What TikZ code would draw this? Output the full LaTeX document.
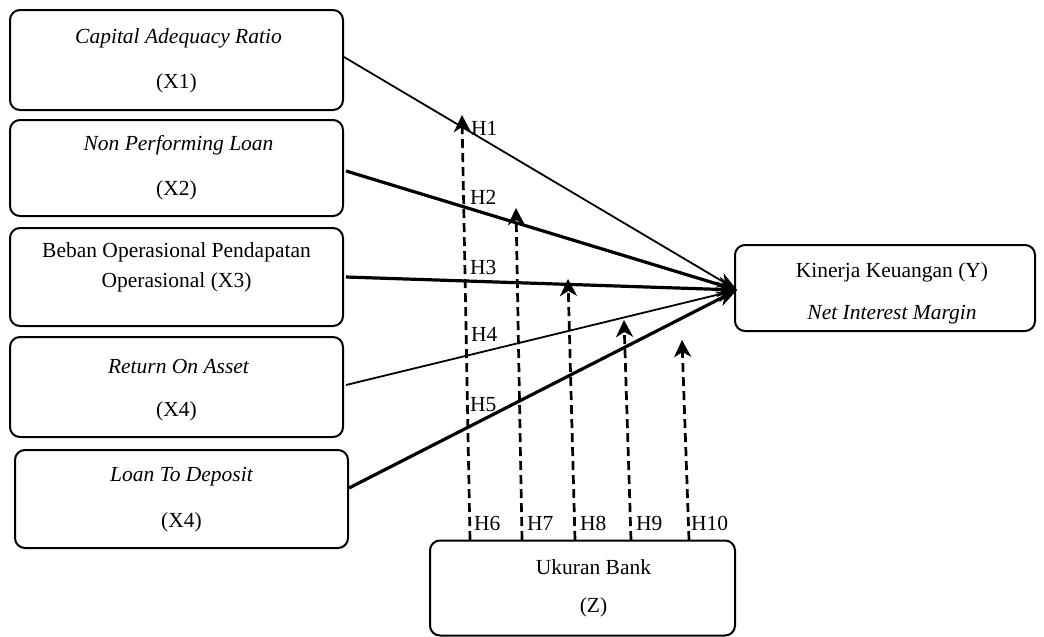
\documentclass[tikz,border=0pt]{standalone}
\usepackage{fontspec}
\setmainfont{Liberation Serif}
\usetikzlibrary{arrows.meta,calc}
\tikzset{
  box/.style={draw, line width=2pt, rounded corners=10pt, inner sep=0pt},
  txt/.style={inner sep=0pt, font=\fontsize{21.5}{24}\selectfont},
  thinarr/.style={line width=1.8pt, -{Stealth[length=20pt,width=15pt,inset=6pt]}},
  thickarr/.style={line width=3.2pt, -{Stealth[length=20pt,width=15pt,inset=6pt]}},
  dasharr/.style={line width=2.7pt, dash pattern=on 9pt off 5pt, -{Stealth[length=17pt,width=17pt,inset=5pt]}},
  hlab/.style={inner sep=0pt, anchor=west, font=\fontsize{21.5}{24}\selectfont}
}
\begin{document}
\begin{tikzpicture}[x=1pt,y=-1pt]
\useasboundingbox (0,0) rectangle (1044,637);
% boxes
\node[box, minimum width=333pt, minimum height=100pt] (x1) at (176.5,60) {};
\node[box, minimum width=333pt, minimum height=96pt] (x2) at (176.5,168) {};
\node[box, minimum width=333pt, minimum height=98pt] (x3) at (176.5,277) {};
\node[box, minimum width=333pt, minimum height=100pt] (x4) at (176.5,387) {};
\node[box, minimum width=333pt, minimum height=98pt] (x5) at (181.5,499) {};
\node[box, minimum width=300pt, minimum height=86pt] (y) at (885,288) {};
\node[box, minimum width=305pt, minimum height=95pt] (z) at (582.5,588) {};
% texts
\node[txt] (t1a) at ($(x1.center)+(2,-22)$) {\itshape Capital Adequacy Ratio};
\node[txt] (t1b) at ($(x1.center)+(0,23)$) {(X1)};
\node[txt] (t2a) at ($(x2.center)+(2,-23)$) {\itshape Non Performing Loan};
\node[txt] (t2b) at ($(x2.center)+(0,22)$) {(X2)};
\node[txt] (t3a) at ($(x3.center)+(0,-25)$) {Beban Operasional Pendapatan};
\node[txt] (t3b) at ($(x3.center)+(0,5)$) {Operasional (X3)};
\node[txt] (t4a) at ($(x4.center)+(2,-20)$) {\itshape Return On Asset};
\node[txt] (t4b) at ($(x4.center)+(0,24)$) {(X4)};
\node[txt] (t5a) at ($(x5.center)+(0,-22)$) {\itshape Loan To Deposit};
\node[txt] (t5b) at ($(x5.center)+(0,23)$) {(X4)};
\node[txt] (tya) at ($(y.center)+(7,-16)$) {Kinerja Keuangan (Y)};
\node[txt] (tyb) at ($(y.center)+(7,27)$) {\itshape Net Interest Margin};
\node[txt] (tza) at ($(z.center)+(11,-21)$) {Ukuran Bank};
\node[txt] (tzb) at ($(z.center)+(11,19)$) {(Z)};
% convergence point
\coordinate (c) at ($(y.west)+(3,2)$);
\draw[thinarr] ($(x1.east)+(0,-3)$) -- (c);
\draw[thickarr] ($(x2.east)+(2,3)$) -- (c);
\draw[thickarr] ($(x3.east)+(2,0)$) -- (c);
\draw[thinarr] ($(x4.east)+(2,-2)$) -- (c);
\draw[thickarr] ($(x5.east)+(0,-11)$) -- (c);
% moderation arrows
\coordinate (b6) at (470,540); \coordinate (e6) at (462,115);
\coordinate (b7) at (522,540); \coordinate (e7) at (516,208);
\coordinate (b8) at (575,540); \coordinate (e8) at (568,279);
\coordinate (b9) at (631,540); \coordinate (e9) at (624,320);
\coordinate (b10) at (689,540); \coordinate (e10) at (682,340);
\draw[dasharr] (b6) -- (e6);
\draw[dasharr] (b7) -- (e7);
\draw[dasharr] (b8) -- (e8);
\draw[dasharr] (b9) -- (e9);
\draw[dasharr] (b10) -- (e10);
% labels
\node[hlab] (h1) at (471,128) {H1};
\node[hlab] (h2) at (470,197) {H2};
\node[hlab] (h3) at (470,267) {H3};
\node[hlab] (h4) at (471,334) {H4};
\node[hlab] (h5) at (470,405) {H5};
\node[hlab] (h6) at (474,523) {H6};
\node[hlab] (h7) at (527,523) {H7};
\node[hlab] (h8) at (580,523) {H8};
\node[hlab] (h9) at (636,523) {H9};
\node[hlab] (h10) at (691,523) {H10};
\end{tikzpicture}
\end{document}
